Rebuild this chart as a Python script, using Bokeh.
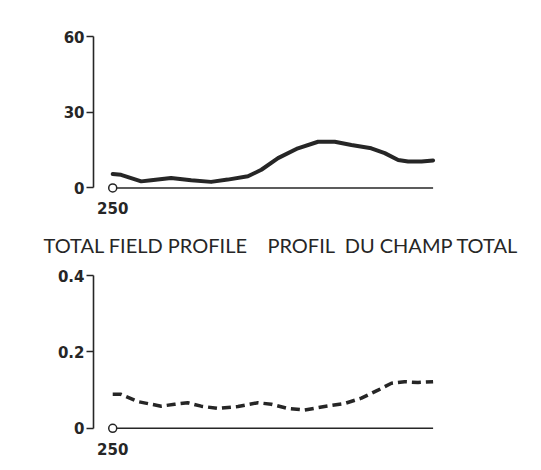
from bokeh.plotting import figure
from bokeh.layouts import column
from bokeh.models import FixedTicker, Range1d
from bokeh.embed import file_html
from bokeh.resources import INLINE

# ---- data ----
top_x = [250, 252.6, 258.9, 262, 268.2, 274.5, 280.7, 285.9, 292.2, 296.4, 301.6,
         307.8, 314.1, 319.3, 324.5, 330.7, 334.9, 339.1, 342.2, 346.4, 350]
top_y = [5.5, 5.2, 2.6, 3.0, 3.9, 3.0, 2.4, 3.3, 4.6, 7.2, 11.8,
         15.7, 18.3, 18.3, 17.0, 15.7, 13.8, 11.1, 10.5, 10.5, 10.9]

bot_x = [250, 252.6, 257.8, 265.1, 269.3, 273.4, 277.6, 282.8, 289.1, 295.3, 299.5,
         304.7, 309.9, 316.1, 322.4, 327.6, 332.8, 337.0, 341.1, 345.3, 350]
bot_y = [0.089, 0.089, 0.070, 0.058, 0.063, 0.067, 0.058, 0.052, 0.057, 0.067, 0.063,
         0.052, 0.048, 0.057, 0.065, 0.079, 0.100, 0.118, 0.122, 0.120, 0.122]

top_ticks = [0, 30, 60]
bot_ticks = [0, 0.2, 0.4]
bot_tick_labels = {0: "0", 0.2: "0.2", 0.4: "0.4"}
x_ticks = [250]
title_text = "TOTAL FIELD PROFILE\u00a0\u00a0\u00a0 PROFIL\u00a0 DU CHAMP TOTAL"

INK = "#262626"
W = 525
LEFT = 93
FRAME_W = 346


def panel(xs, ys, yticks, ymax, dash, height, top_border, low, label_standoff):
    span = ymax / 60.0
    p = figure(width=W, height=height, output_backend="svg", toolbar_location=None,
               x_range=Range1d(244, 352), y_range=Range1d(-low * span, 62 * span),
               min_border_left=LEFT, min_border_right=W - LEFT - FRAME_W,
               min_border_top=top_border, min_border_bottom=20)
    p.grid.visible = False
    p.outline_line_color = None
    p.background_fill_color = "white"
    p.border_fill_color = "white"

    ax = p.yaxis[0]
    ax.ticker = FixedTicker(ticks=yticks)
    ax.bounds = (0, ymax)
    ax.axis_line_color = INK
    ax.axis_line_width = 1.6
    ax.major_tick_line_color = INK
    ax.major_tick_line_width = 1.6
    ax.major_tick_out = 7
    ax.major_tick_in = 0
    ax.minor_tick_line_color = None
    ax.major_label_text_font = "DejaVu Sans"
    ax.major_label_text_font_style = "bold"
    ax.major_label_text_font_size = "15px"
    ax.major_label_text_color = INK
    ax.major_label_standoff = 2

    xa = p.xaxis[0]
    xa.ticker = FixedTicker(ticks=x_ticks)
    xa.axis_line_color = None
    xa.major_tick_line_color = None
    xa.minor_tick_line_color = None
    xa.major_label_text_font = "DejaVu Sans"
    xa.major_label_text_font_style = "bold"
    xa.major_label_text_font_size = "15px"
    xa.major_label_text_color = INK
    xa.major_label_standoff = label_standoff

    # baseline from first to last sample
    p.line([xs[0], xs[-1]], [0, 0], line_color=INK, line_width=1.6)
    p.scatter([xs[0]], [0], marker="circle", size=8, fill_color="white",
              line_color=INK, line_width=1.5)
    if dash:
        p.line(xs, ys, line_color=INK, line_width=3.5, line_dash="9 5")
    else:
        p.line(xs, ys, line_color=INK, line_width=4, line_cap="round", line_join="round")
    return p


p1 = panel(top_x, top_y, top_ticks, 60, False, 216, 31, 3, 0)
p2 = panel(bot_x, bot_y, bot_ticks, 0.4, True, 242, 53, 4, -2)
p2.yaxis[0].major_label_overrides = bot_tick_labels

p2.title.text = title_text
p2.title.align = "left"
p2.title.offset = -50
p2.title.standoff = 28
p2.title.text_font = "Lato"
p2.title.text_font_size = "20px"
p2.title.text_font_style = "normal"
p2.title.text_color = INK

layout = column(p1, p2, spacing=0)
open("out.html", "w").write(file_html(layout, INLINE))
